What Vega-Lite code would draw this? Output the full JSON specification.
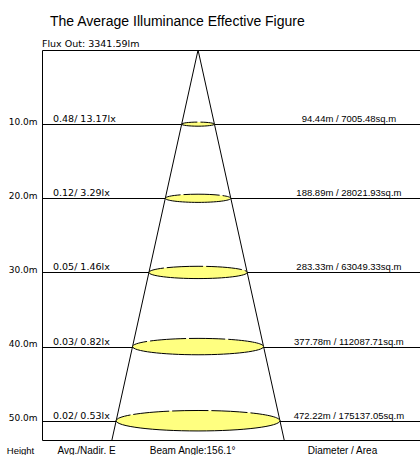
{
  "$schema": "https://vega.github.io/schema/vega-lite/v6.json",
  "width": 378,
  "height": 390,
  "autosize": {"type": "none"},
  "padding": {"left": 42, "top": 50, "right": 0, "bottom": 15},
  "background": "white",
  "title": {
    "text": "The Average Illuminance Effective Figure",
    "anchor": "start",
    "frame": "group",
    "dx": 8,
    "offset": -1,
    "baseline": "alphabetic",
    "font": "Liberation Sans",
    "fontSize": 14,
    "fontWeight": "normal",
    "color": "black"
  },
  "config": {
    "view": {"stroke": null},
    "axis": {"labelColor": "black", "titleColor": "black"}
  },
  "datasets": {
    "levels": [
      {"height": 10, "lux": "0.48/ 13.17lx", "diameter": 94.44, "area": "94.44m / 7005.48sq.m"},
      {"height": 20, "lux": "0.12/ 3.29lx", "diameter": 188.89, "area": "188.89m / 28021.93sq.m"},
      {"height": 30, "lux": "0.05/ 1.46lx", "diameter": 283.33, "area": "283.33m / 63049.33sq.m"},
      {"height": 40, "lux": "0.03/ 0.82lx", "diameter": 377.78, "area": "377.78m / 112087.71sq.m"},
      {"height": 50, "lux": "0.02/ 0.53lx", "diameter": 472.22, "area": "472.22m / 175137.05sq.m"}
    ],
    "cone": [
      {"side": "left", "offset": 0, "height": 0},
      {"side": "left", "offset": -248.4, "height": 52.6},
      {"side": "right", "offset": 0, "height": 0},
      {"side": "right", "offset": 248.4, "height": 52.6}
    ],
    "flux": [
      {"height": 0, "text": "Flux Out: 3341.59lm"}
    ]
  },
  "layer": [
    {
      "data": {"name": "cone"},
      "mark": {"type": "line", "color": "black", "strokeWidth": 1},
      "encoding": {
        "x": {
          "field": "offset",
          "type": "quantitative",
          "scale": {"domain": [-450, 640], "nice": false, "zero": false},
          "axis": {
            "title": null,
            "values": [-323, -17, 415],
            "labelExpr": "datum.value < -100 ? 'Avg./Nadir. E' : datum.value < 100 ? 'Beam Angle:156.1°' : 'Diameter / Area'",
            "ticks": false,
            "tickSize": 0,
            "grid": false,
            "domainColor": "black",
            "domainWidth": 1,
            "labelPadding": 13,
            "labelBaseline": "alphabetic",
            "labelFont": "Liberation Sans",
            "labelFontSize": 10,
            "labelFlush": false,
            "labelOverlap": false
          }
        },
        "y": {
          "field": "height",
          "type": "quantitative",
          "scale": {"domain": [0, 52.6], "nice": false, "zero": false, "reverse": true},
          "axis": {
            "title": "Height",
            "titleAngle": 0,
            "titleAlign": "center",
            "titleBaseline": "alphabetic",
            "titleX": -22,
            "titleY": 403,
            "titleFont": "Liberation Sans",
            "titleFontSize": 9.5,
            "titleFontWeight": "normal",
            "values": [0, 10, 20, 30, 40, 50],
            "labelExpr": "datum.value == 0 ? '' : format(datum.value, '.1f') + 'm'",
            "ticks": false,
            "tickSize": 0,
            "grid": true,
            "gridColor": "black",
            "gridOpacity": 1,
            "gridWidth": 1,
            "domainColor": "black",
            "domainWidth": 1,
            "labelPadding": 5,
            "labelBaseline": "alphabetic",
            "labelFont": "DejaVu Sans",
            "labelFontSize": 9
          }
        },
        "detail": {"field": "side"}
      }
    },
    {
      "data": {"name": "levels"},
      "mark": {
        "type": "point",
        "shape": "M -1 0 C -1 -0.069 -0.552 -0.125 0 -0.125 C 0.552 -0.125 1 -0.069 1 0 C 1 0.069 0.552 0.125 0 0.125 C -0.552 0.125 -1 0.069 -1 0 Z",
        "filled": true,
        "fill": "#ffff80",
        "strokeWidth": 0,
        "opacity": 1
      },
      "encoding": {
        "x": {"datum": 0, "type": "quantitative"},
        "y": {"field": "height", "type": "quantitative"},
        "size": {
          "field": "diameter",
          "type": "quantitative",
          "scale": {"type": "pow", "exponent": 2, "domain": [0, 472.22], "range": [0, 26818]},
          "legend": null
        }
      }
    },
    {
      "data": {"name": "levels"},
      "mark": {
        "type": "point",
        "shape": "M -1 0 C -1 0.069 -0.552 0.125 0 0.125 C 0.552 0.125 1 0.069 1 0",
        "filled": false,
        "stroke": "black",
        "strokeWidth": 1,
        "opacity": 1
      },
      "encoding": {
        "x": {"datum": 0, "type": "quantitative"},
        "y": {"field": "height", "type": "quantitative"},
        "size": {
          "field": "diameter",
          "type": "quantitative",
          "scale": {"type": "pow", "exponent": 2, "domain": [0, 472.22], "range": [0, 26818]},
          "legend": null
        }
      }
    },
    {
      "data": {"name": "levels"},
      "mark": {
        "type": "point",
        "shape": "M -1 0 C -1 -0.069 -0.552 -0.125 0 -0.125 C 0.552 -0.125 1 -0.069 1 0",
        "filled": false,
        "stroke": "black",
        "strokeWidth": 1,
        "strokeDash": [36, 3],
        "strokeDashOffset": 20,
        "opacity": 1
      },
      "encoding": {
        "x": {"datum": 0, "type": "quantitative"},
        "y": {"field": "height", "type": "quantitative"},
        "size": {
          "field": "diameter",
          "type": "quantitative",
          "scale": {"type": "pow", "exponent": 2, "domain": [0, 472.22], "range": [0, 26818]},
          "legend": null
        }
      }
    },
    {
      "data": {"name": "levels"},
      "mark": {
        "type": "text",
        "align": "left",
        "baseline": "alphabetic",
        "dx": 11,
        "dy": -2,
        "font": "DejaVu Sans",
        "fontSize": 9.5,
        "color": "black"
      },
      "encoding": {
        "x": {"datum": -450, "type": "quantitative"},
        "y": {"field": "height", "type": "quantitative"},
        "text": {"field": "lux"}
      }
    },
    {
      "data": {"name": "levels"},
      "mark": {
        "type": "text",
        "align": "center",
        "baseline": "alphabetic",
        "dy": -2,
        "font": "Liberation Sans",
        "fontSize": 9.5,
        "color": "black"
      },
      "encoding": {
        "x": {"datum": 435, "type": "quantitative"},
        "y": {"field": "height", "type": "quantitative"},
        "text": {"field": "area"}
      }
    },
    {
      "data": {"name": "flux"},
      "mark": {
        "type": "text",
        "align": "left",
        "baseline": "alphabetic",
        "dy": -3,
        "font": "DejaVu Sans",
        "fontSize": 9.5,
        "color": "black"
      },
      "encoding": {
        "x": {"datum": -450, "type": "quantitative"},
        "y": {"field": "height", "type": "quantitative"},
        "text": {"field": "text"}
      }
    }
  ]
}
